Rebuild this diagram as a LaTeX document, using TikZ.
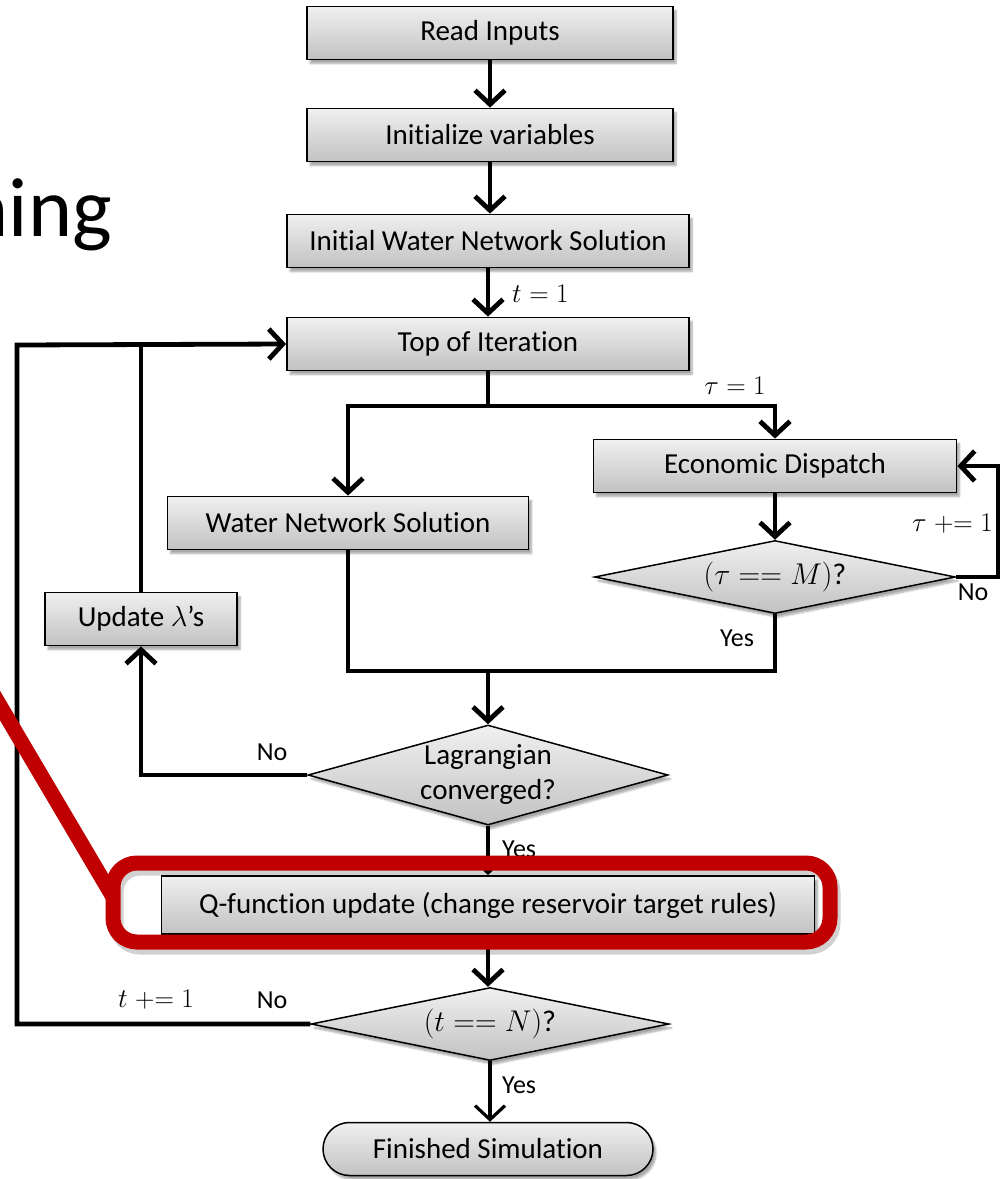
\RequirePackage{fix-cm}
\documentclass[tikz,border=0pt]{standalone}
\usepackage{fontspec}
\setmainfont{Carlito}[Ligatures=NoCommon]
\usetikzlibrary{arrows.meta,shapes.geometric,shapes.misc,shadows.blur}

\definecolor{hlred}{HTML}{C00000}

\tikzset{
  procbox/.style={draw=black, line width=1.8pt, top color=black!6, bottom color=black!24,
    text=black, font=\fontsize{29}{35}\selectfont, minimum height=53pt, inner sep=0pt,
    blur shadow={shadow xshift=3pt, shadow yshift=-4pt, shadow blur steps=6, shadow opacity=35}},
  decision/.style={procbox, diamond, aspect=3.6, line width=1.5pt},
  terminal/.style={procbox, rounded rectangle, line width=1.5pt},
  flow/.style={line width=4.8pt, line join=miter},
  flowthin/.style={line width=3.2pt, line join=miter},
  tip/.style={-{Straight Barb[length=14pt,width=30pt]}},
  lbl/.style={font=\fontsize{26}{30}\selectfont, text=black, inner sep=0pt},
  mathlbl/.style={font=\fontsize{27}{30}\selectfont, text=black, inner sep=0pt},
  mathbig/.style={font=\fontsize{30}{35}\selectfont},
}

\begin{document}
\begin{tikzpicture}[x=1pt, y=-1pt]
  \useasboundingbox (0,0) rectangle (1007,1179);

  % slide title fragment
  \node[font=\fontsize{84}{90}\selectfont, anchor=base east, inner sep=0pt] (title) at (112,236) {ning};

  % boxes
  \node[procbox, minimum width=366pt] (read) at (490,33) {Read Inputs};
  \node[procbox, minimum width=366pt] (init) at (490,135) {Initialize variables};
  \node[procbox, minimum width=402pt] (iwns) at (488,241) {Initial Water Network Solution};
  \node[procbox, minimum width=402pt] (top)  at (488,344) {Top of Iteration};
  \node[procbox, minimum width=363pt] (ed)   at (775,466) {Economic Dispatch};
  \node[procbox, minimum width=361pt] (wns)  at (348,523) {Water Network Solution};
  \node[decision, mathbig, minimum width=361pt, minimum height=73pt] (dm) at (775,577)
        {$(\tau \mathrel{{=}{=}} M)$?};
  \node[procbox, minimum width=192pt] (upd)  at (141,619) {Update $\lambda$’s};
  \node[decision, minimum width=360pt, minimum height=100pt, align=center] (lag) at (488,775)
        {Lagrangian\\converged?};
  \node[procbox, minimum width=653pt, minimum height=58pt] (q) at (488,905)
        {Q-function update (change reservoir target rules)};
  \node[decision, mathbig, minimum width=358pt, minimum height=73pt] (tn) at (490,1024)
        {$(t \mathrel{{=}{=}} N)$?};
  \node[terminal, minimum width=330pt, minimum height=53pt] (fin) at (488,1149) {Finished Simulation};

  % junction points
  \coordinate (split) at (488,406);
  \coordinate (merge) at (488,671);
  \coordinate (outer) at (17,345);
  \coordinate (edloop) at (998,577);

  % connectors
  \draw[flow, tip] (read) -- (init);
  \draw[flow, tip] (init.south) -- (init.south |- iwns.north);
  \draw[flow, tip] (iwns) -- (top);
  \draw[flow] (top.south) -- (split);
  \draw[flow, tip] (split) -| (wns.north);
  \draw[flow, tip] (split) -| (ed.north);
  \draw[flow, tip] (ed) -- (dm);
  \draw[flow, tip] (dm.east) -- (edloop) |- (ed.east);
  \draw[flow] (dm.south) |- (merge);
  \draw[flow] (wns.south) |- (merge);
  \draw[flow, tip] (merge) -- (lag.north);
  \draw[flow, tip] (lag.west) -| (upd.south);
  \draw[flow] (upd.north) -- (upd.north |- outer);
  \draw[flow, tip] (tn.west) -| (outer) -- (top.west);
  \draw[flowthin, tip] (lag.south) -- (q.north);
  \draw[flow, tip] (q.south) -- (q.south |- tn.north);
  \draw[flowthin, tip] (tn.south) -- (tn.south |- fin.north);

  % connector labels
  \node[mathlbl, anchor=west] (lt1) at (512,294) {$t = 1$};
  \node[mathlbl] (ltau1) at (735,386) {$\tau = 1$};
  \node[mathlbl, anchor=east] (ltaup) at (993,524) {$\tau \mathrel{{+}{=}} 1$};
  \node[lbl] (lno1) at (973,592) {No};
  \node[lbl] (lyes1) at (737,638) {Yes};
  \node[lbl] (lno2) at (272,752) {No};
  \node[lbl, anchor=west] (lyes2) at (502,849) {Yes};
  \node[mathlbl] (ltp) at (156,1000) {$t \mathrel{{+}{=}} 1$};
  \node[lbl] (lno3) at (272,1000) {No};
  \node[lbl, anchor=west] (lyes3) at (502,1085) {Yes};

  % red highlight frame with pointer line
  \draw[black, opacity=0.18, line width=15pt, rounded corners=24pt]
        (116,868) rectangle (833,947);
  \draw[hlred, line width=15pt, line cap=butt] (-8,692) -- (113,897);
  \draw[hlred, line width=15pt, rounded corners=24pt] (113,863) rectangle (830,942);
\end{tikzpicture}
\end{document}
